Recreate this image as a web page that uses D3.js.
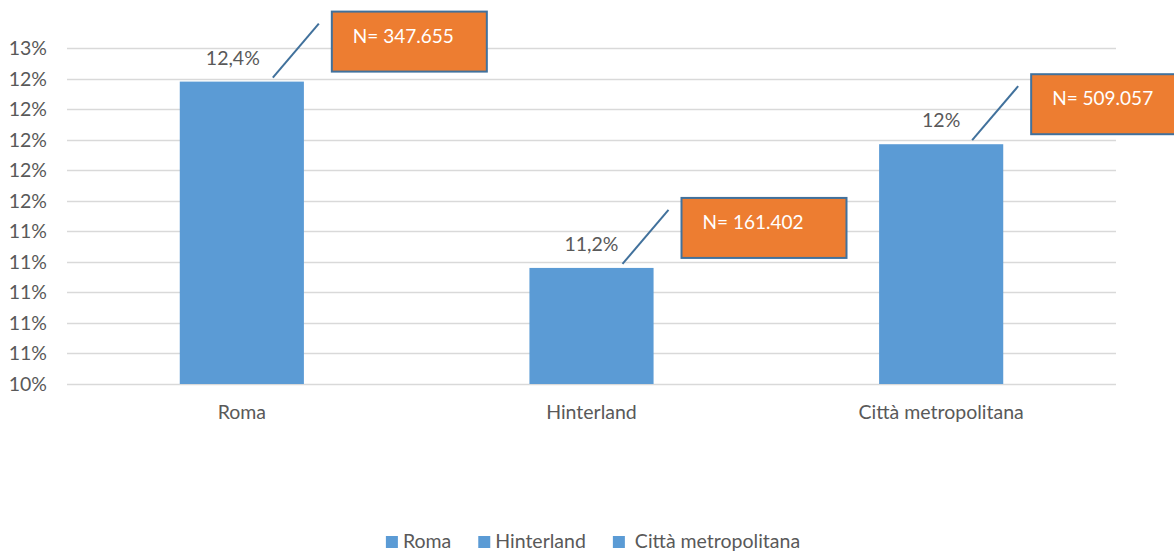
<!DOCTYPE html>
<html>
<head>
<meta charset="utf-8">
<script src="https://cdn.jsdelivr.net/npm/d3@7"></script>
<style>
  body { margin: 0; background: #fff; }
  svg { display: block; font-family: Lato, "Open Sans", sans-serif; }
</style>
</head>
<body>
<div id="chart"></div>
<script>
var categories = ["Roma", "Hinterland", "Città metropolitana"];
var values = [12.38, 11.16, 11.97];
var valueLabels = ["12,4%", "11,2%", "12%"];
var counts = ["N= 347.655", "N= 161.402", "N= 509.057"];
var yTicks = [10.4, 10.6, 10.8, 11.0, 11.2, 11.4, 11.6, 11.8, 12.0, 12.2, 12.4, 12.6];
var yTickLabels = ["10%", "11%", "11%", "11%", "11%", "11%", "12%", "12%", "12%", "12%", "12%", "13%"];

var chart = new Object;

chart.create = function() {
  var W = 1174, H = 551;
  var left = 67, right = 1116, top = 48, bottom = 384;
  var textCol = "#595959", barCol = "#5b9bd5", boxCol = "#ed7d31", edgeCol = "#41719c";
  var fs = 19.5;
  var boxW = [155, 165, 158];

  var svg = d3.select("#chart").append("svg").attr("width", W).attr("height", H);

  var x = d3.scaleBand().domain(categories).range([left, right]).paddingInner(0.645).paddingOuter(0.3225);
  var y = d3.scaleLinear().domain([yTicks[0], yTicks[yTicks.length - 1]]).range([bottom, top]);

  // gridlines
  svg.append("g").selectAll("line").data(yTicks).enter().append("line")
    .attr("x1", left).attr("x2", right)
    .attr("y1", function(d) { return Math.round(y(d)) + 0.5; })
    .attr("y2", function(d) { return Math.round(y(d)) + 0.5; })
    .attr("stroke", "#d9d9d9").attr("stroke-width", 1.5);

  // y tick labels
  svg.append("g").selectAll("text").data(yTicks).enter().append("text")
    .attr("x", 47).attr("y", function(d) { return y(d); }).attr("dy", "0.36em")
    .attr("text-anchor", "end").attr("fill", textCol).attr("font-size", fs)
    .text(function(d, i) { return yTickLabels[i]; });

  // bars
  svg.append("g").selectAll("rect").data(values).enter().append("rect")
    .attr("x", function(d, i) { return x(categories[i]); })
    .attr("y", function(d) { return y(d); })
    .attr("width", x.bandwidth())
    .attr("height", function(d) { return bottom - y(d); })
    .attr("fill", barCol);

  // value labels
  svg.append("g").selectAll("text").data(values).enter().append("text")
    .attr("x", function(d, i) { return x(categories[i]) + x.bandwidth() / 2 - (i === 0 ? 9 : 0); })
    .attr("y", function(d) { return y(d) - 17; })
    .attr("text-anchor", "middle").attr("fill", textCol).attr("font-size", fs)
    .text(function(d, i) { return valueLabels[i]; });

  // category labels
  svg.append("g").selectAll("text").data(categories).enter().append("text")
    .attr("x", function(d) { return x(d) + x.bandwidth() / 2; })
    .attr("y", 419)
    .attr("text-anchor", "middle").attr("fill", textCol).attr("font-size", fs)
    .text(function(d) { return d; });

  // callouts
  var call = svg.append("g").selectAll("g").data(values).enter().append("g");
  call.append("line")
    .attr("x1", function(d, i) { return x(categories[i]) + x.bandwidth() / 2 + 31; })
    .attr("y1", function(d) { return y(d) - 4; })
    .attr("x2", function(d, i) { return x(categories[i]) + x.bandwidth() / 2 + 77; })
    .attr("y2", function(d) { return y(d) - 58; })
    .attr("stroke", edgeCol).attr("stroke-width", 2);
  call.append("rect")
    .attr("x", function(d, i) { return x(categories[i]) + x.bandwidth() / 2 + 90; })
    .attr("y", function(d) { return y(d) - 70; })
    .attr("width", function(d, i) { return boxW[i]; })
    .attr("height", 60)
    .attr("fill", boxCol).attr("stroke", edgeCol).attr("stroke-width", 2);
  call.append("text")
    .attr("x", function(d, i) { return x(categories[i]) + x.bandwidth() / 2 + 111; })
    .attr("y", function(d) { return y(d) - 39; })
    .attr("fill", "#fff").attr("font-size", 19)
    .text(function(d, i) { return counts[i]; });

  // legend
  var lg = svg.append("g");
  var items = lg.selectAll("g").data(categories).enter().append("g");
  items.append("rect").attr("width", 12).attr("height", 12).attr("y", 536).attr("fill", barCol);
  items.append("text").attr("x", 17).attr("y", 548).attr("fill", textCol).attr("font-size", fs)
    .text(function(d, i) { return (i === 2 ? "\u00a0" : "") + d; });
  var pos = 0, offs = [];
  items.each(function() {
    offs.push(pos);
    pos += 17 + d3.select(this).select("text").node().getComputedTextLength() + 27;
  });
  var total = pos - 27;
  var start = 593 - total / 2;
  items.attr("transform", function(d, i) { return "translate(" + (start + offs[i]) + ",0)"; });
};

chart.create();
</script>
</body>
</html>
